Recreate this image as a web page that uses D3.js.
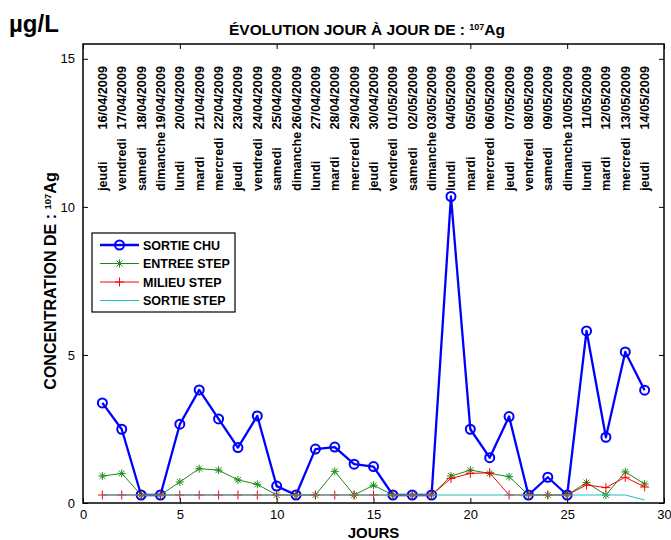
<!DOCTYPE html>
<html>
<head>
<meta charset="utf-8">
<script src="https://cdn.jsdelivr.net/npm/d3@7"></script>
<style>
  body { margin: 0; background: #fff; }
  text { font-family: "Liberation Sans", Arial, sans-serif; }
</style>
</head>
<body>
<div id="chart"></div>
<script>
// days 1..29
const jours = d3.range(1, 30)
const dates = ['16/04/2009','17/04/2009','18/04/2009','19/04/2009','20/04/2009','21/04/2009','22/04/2009',
  '23/04/2009','24/04/2009','25/04/2009','26/04/2009','27/04/2009','28/04/2009','29/04/2009','30/04/2009',
  '01/05/2009','02/05/2009','03/05/2009','04/05/2009','05/05/2009','06/05/2009','07/05/2009','08/05/2009',
  '09/05/2009','10/05/2009','11/05/2009','12/05/2009','13/05/2009','14/05/2009']
const weekdays = ['jeudi','vendredi','samedi','dimanche','lundi','mardi','mercredi',
  'jeudi','vendredi','samedi','dimanche','lundi','mardi','mercredi','jeudi',
  'vendredi','samedi','dimanche','lundi','mardi','mercredi','jeudi','vendredi',
  'samedi','dimanche','lundi','mardi','mercredi','jeudi']

const sortieChu = [3.38,2.49,0.27,0.27,2.66,3.82,2.84,1.87,2.94,0.57,0.27,1.82,1.89,1.31,1.23,
  0.27,0.27,0.27,10.35,2.49,1.53,2.92,0.27,0.87,0.27,5.81,2.22,5.1,3.81]
const entreeStep = [0.91,1.0,0.27,0.27,0.71,1.16,1.11,0.78,0.63,0.27,0.27,0.27,1.07,0.27,0.6,
  0.27,0.27,0.27,0.91,1.11,1.0,0.89,0.27,0.27,0.27,0.69,0.27,1.05,0.64]
const milieuStep = [0.27,0.27,0.27,0.27,0.27,0.27,0.27,0.27,0.27,0.27,0.27,0.27,0.27,0.27,0.27,
  0.27,0.27,0.27,0.83,1.0,1.02,0.27,0.27,0.27,0.27,0.61,0.52,0.87,0.54]
const sortieStep = [0.27,0.27,0.27,0.27,0.27,0.27,0.27,0.27,0.27,0.27,0.27,0.27,0.27,0.27,0.27,
  0.27,0.27,0.27,0.27,0.27,0.27,0.27,0.27,0.27,0.27,0.27,0.27,0.27,0.1]

const xTicks = [0,5,10,15,20,25,30]
const yTicks = [0,5,10,15]

const series = [
  {name: 'SORTIE CHU', values: sortieChu, color: '#0000ff', width: 2.3, marker: 'circle'},
  {name: 'ENTREE STEP', values: entreeStep, color: '#1a8a1a', width: 1, marker: 'star'},
  {name: 'MILIEU STEP', values: milieuStep, color: '#ff0000', width: 1, marker: 'plus'},
  {name: 'SORTIE STEP', values: sortieStep, color: '#20bfbf', width: 1, marker: 'none'}
]

var width = 671, height = 540
var margin = {top: 44, right: 7, bottom: 37, left: 83}

var svg = d3.select('#chart').append('svg')
  .attr('width', width)
  .attr('height', height)

var x = d3.scaleLinear().domain([0, 30]).range([margin.left, width - margin.right])
var y = d3.scaleLinear().domain([0, 15.5]).range([height - margin.bottom, margin.top])

const tickLen = 5

// box
svg.append('rect')
  .attr('x', x(0)).attr('y', y(15.5))
  .attr('width', x(30) - x(0)).attr('height', y(0) - y(15.5))
  .attr('fill', 'none').attr('stroke', '#000').attr('stroke-width', 1.5)

// axes with inward ticks
var xAxis = svg.append('g').attr('transform', 'translate(0,' + y(0) + ')')
  .call(d3.axisBottom(x).tickValues(xTicks).tickSize(-tickLen).tickPadding(7))
var xTop = svg.append('g').attr('transform', 'translate(0,' + y(15.5) + ')')
  .call(d3.axisTop(x).tickValues(xTicks).tickSize(-tickLen).tickFormat(''))
var yAxis = svg.append('g').attr('transform', 'translate(' + x(0) + ',0)')
  .call(d3.axisLeft(y).tickValues(yTicks).tickSize(-tickLen).tickPadding(8))
var yRight = svg.append('g').attr('transform', 'translate(' + x(30) + ',0)')
  .call(d3.axisRight(y).tickValues(yTicks).tickSize(-tickLen).tickFormat(''))

svg.selectAll('.domain').remove()
svg.selectAll('.tick line').attr('stroke', '#000')
svg.selectAll('.tick text')
  .attr('fill', '#000')
  .style('font-size', '13px')
  .style('font-family', '"Liberation Sans", Arial, sans-serif')

// date labels
var lab = svg.append('g')
jours.forEach((d, i) => {
  lab.append('text')
    .attr('transform', 'translate(' + (x(d) + 4.5) + ',191) rotate(-90)')
    .attr('text-anchor', 'start')
    .style('font-size', '12.7px').style('font-weight', 'bold')
    .text(weekdays[i])
  lab.append('text')
    .attr('transform', 'translate(' + (x(d) + 4.5) + ',66) rotate(-90)')
    .attr('text-anchor', 'end')
    .style('font-size', '12.7px').style('font-weight', 'bold')
    .text(dates[i])
})

// lines
var line = d3.line()
  .x((d, i) => x(jours[i]))
  .y(d => y(d))

function drawMarker(g, type, cx, cy, color) {
  if (type == 'circle') {
    g.append('circle').attr('cx', cx).attr('cy', cy).attr('r', 4.5)
      .attr('fill', 'none').attr('stroke', color).attr('stroke-width', 2)
  } else if (type == 'star') {
    var s = 4, t = 2.9
    g.append('path')
      .attr('d', 'M' + (cx - s) + ',' + cy + 'H' + (cx + s) + 'M' + cx + ',' + (cy - s) + 'V' + (cy + s) +
        'M' + (cx - t) + ',' + (cy - t) + 'L' + (cx + t) + ',' + (cy + t) +
        'M' + (cx - t) + ',' + (cy + t) + 'L' + (cx + t) + ',' + (cy - t))
      .attr('stroke', color).attr('stroke-width', 1).attr('fill', 'none')
  } else if (type == 'plus') {
    var p = 4.5
    g.append('path')
      .attr('d', 'M' + (cx - p) + ',' + cy + 'H' + (cx + p) + 'M' + cx + ',' + (cy - p) + 'V' + (cy + p))
      .attr('stroke', color).attr('stroke-width', 1).attr('fill', 'none')
  }
}

series.forEach(s => {
  var g = svg.append('g')
  g.append('path')
    .datum(s.values)
    .attr('d', line)
    .attr('fill', 'none')
    .attr('stroke', s.color)
    .attr('stroke-width', s.width)
    .attr('stroke-linejoin', 'round')
  s.values.forEach((v, i) => drawMarker(g, s.marker, x(jours[i]), y(v), s.color))
})

// legend
var legend = svg.append('g')
legend.append('rect')
  .attr('x', 92).attr('y', 233).attr('width', 143).attr('height', 79)
  .attr('fill', '#fff').attr('stroke', '#000').attr('stroke-width', 1.2)
series.forEach((s, i) => {
  var ly = 245 + i * 18.5
  legend.append('line')
    .attr('x1', 100).attr('x2', 139).attr('y1', ly).attr('y2', ly)
    .attr('stroke', s.color).attr('stroke-width', s.width)
  drawMarker(legend, s.marker, 119.5, ly, s.color)
  legend.append('text')
    .attr('x', 143).attr('y', ly + 4.5)
    .style('font-size', '12.5px').style('font-weight', 'bold')
    .text(s.name)
})

// titles
svg.append('text')
  .attr('x', 9).attr('y', 32)
  .style('font-size', '24px').style('font-weight', 'bold')
  .text('µg/L')

var title = svg.append('text')
  .attr('x', 367).attr('y', 35)
  .attr('text-anchor', 'middle')
  .style('font-size', '15.5px').style('font-weight', 'bold')
title.append('tspan').text('ÉVOLUTION JOUR À JOUR DE : ')
title.append('tspan').attr('dy', -5).style('font-size', '9px').text('107')
title.append('tspan').attr('dy', 5).text('Ag')

svg.append('text')
  .attr('x', (x(0) + x(30)) / 2).attr('y', 538)
  .attr('text-anchor', 'middle')
  .style('font-size', '15px').style('font-weight', 'bold')
  .text('JOURS')

var ylab = svg.append('text')
  .attr('transform', 'translate(56,281) rotate(-90)')
  .attr('text-anchor', 'middle')
  .style('font-size', '16px').style('font-weight', 'bold')
ylab.append('tspan').text('CONCENTRATION  DE : ')
ylab.append('tspan').attr('dy', -5).style('font-size', '9.5px').text('107')
ylab.append('tspan').attr('dy', 5).text('Ag')
</script>
</body>
</html>
